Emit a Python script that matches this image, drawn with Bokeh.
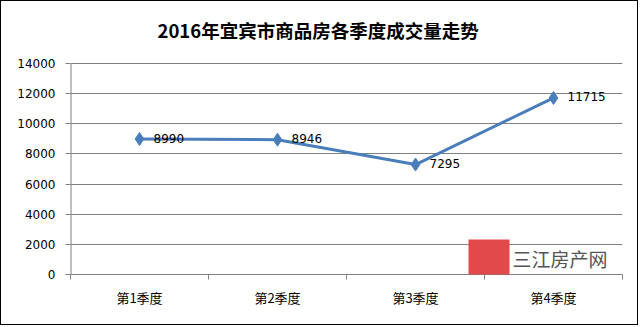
from bokeh.plotting import figure
from bokeh.models import Range1d, FixedTicker, Label, LabelSet, BoxAnnotation, ColumnDataSource
from bokeh.embed import file_html
from bokeh.resources import INLINE
from bokeh.core.properties import value

chart_title = "2016年宜宾市商品房各季度成交量走势"
quarters = ["第1季度", "第2季度", "第3季度", "第4季度"]
volumes = [8990, 8946, 7295, 11715]
y_ticks = [0, 2000, 4000, 6000, 8000, 10000, 12000, 14000]

xs = [i + 0.5 for i in range(len(quarters))]
src = ColumnDataSource(dict(x=xs, y=volumes, lbl=[str(v) for v in volumes]))

W, H = 638, 325
FRAME_L, FRAME_R, FRAME_B = 69, 621, 273
PLOT_TOP = 62          # pixel row of the top gridline (14000)
FRAME_T = 0            # frame extended to the top so the title can live inside it
y_max = y_ticks[-1]
y_end = y_max * (FRAME_B - FRAME_T) / (FRAME_B - PLOT_TOP)

p = figure(width=W, height=H, output_backend="svg", toolbar_location=None,
           x_range=Range1d(0, len(quarters)), y_range=Range1d(0, y_end),
           min_border_left=FRAME_L, min_border_right=W - FRAME_R,
           min_border_top=FRAME_T, min_border_bottom=H - FRAME_B)
p.styles = {"border": "1px solid #000000"}
p.outline_line_color = None
p.background_fill_color = "white"
p.border_fill_color = "white"

GRID = "#808080"
p.xgrid.grid_line_color = None
p.ygrid.grid_line_color = GRID
p.ygrid.grid_line_width = 1

yax = p.yaxis[0]
yax.ticker = FixedTicker(ticks=y_ticks)
yax.axis_line_color = None
yax.major_tick_line_color = GRID
yax.major_tick_out = 5
yax.major_tick_in = 0
yax.minor_tick_line_color = None
yax.major_label_standoff = 10
yax.major_label_text_font = "DejaVu Sans"
yax.major_label_text_font_size = "12px"
yax.major_label_text_color = "#000000"

# visible y axis line only over the value range
p.segment(x0=[0], y0=[0], x1=[0], y1=[y_max], line_color=GRID, line_width=2)

xax = p.xaxis[0]
xax.ticker = FixedTicker(ticks=xs, minor_ticks=list(range(len(quarters) + 1)))
xax.major_label_overrides = {x: q for x, q in zip(xs, quarters)}
xax.axis_line_color = GRID
xax.major_tick_line_color = None
xax.major_tick_out = 0
xax.major_tick_in = 0
xax.minor_tick_line_color = GRID
xax.minor_tick_out = 5
xax.minor_tick_in = 0
xax.major_label_standoff = 8
xax.major_label_text_font = "Noto Sans CJK SC"
xax.major_label_text_font_size = "13px"
xax.major_label_text_color = "#000000"

BLUE = "#4A7EBB"
p.line("x", "y", source=src, line_color=BLUE, line_width=3)
p.scatter("x", "y", source=src, marker="diamond", size=13, fill_color=BLUE, line_color=BLUE)

labels = LabelSet(x="x", y="y", text="lbl", source=src, x_offset=14, y_offset=1,
                  text_baseline="middle", text_align="left",
                  text_font=value("DejaVu Sans"), text_font_size="12px", text_color="#000000")
p.add_layout(labels)

# title (screen units relative to frame bottom-left)
p.add_layout(Label(x=156 - FRAME_L, y=FRAME_B - 28, x_units="screen", y_units="screen",
                   text=chart_title, text_align="left", text_baseline="middle",
                   text_font="Noto Sans CJK SC", text_font_style="bold",
                   text_font_size="18.5px", text_color="#000000"))

# watermark logo
p.add_layout(BoxAnnotation(left=467 - FRAME_L, right=508 - FRAME_L,
                           bottom=FRAME_B - 284, top=FRAME_B - 238,
                           left_units="screen", right_units="screen",
                           bottom_units="screen", top_units="screen",
                           fill_color="#E2494A", fill_alpha=1.0, line_color=None))
p.add_layout(Label(x=511 - FRAME_L, y=FRAME_B - 257, x_units="screen", y_units="screen",
                   text="三江房产网", text_align="left", text_baseline="middle",
                   text_font="Noto Sans CJK SC", text_font_size="19px", text_color="#555555"))

open("out.html", "w").write(file_html(p, INLINE))
